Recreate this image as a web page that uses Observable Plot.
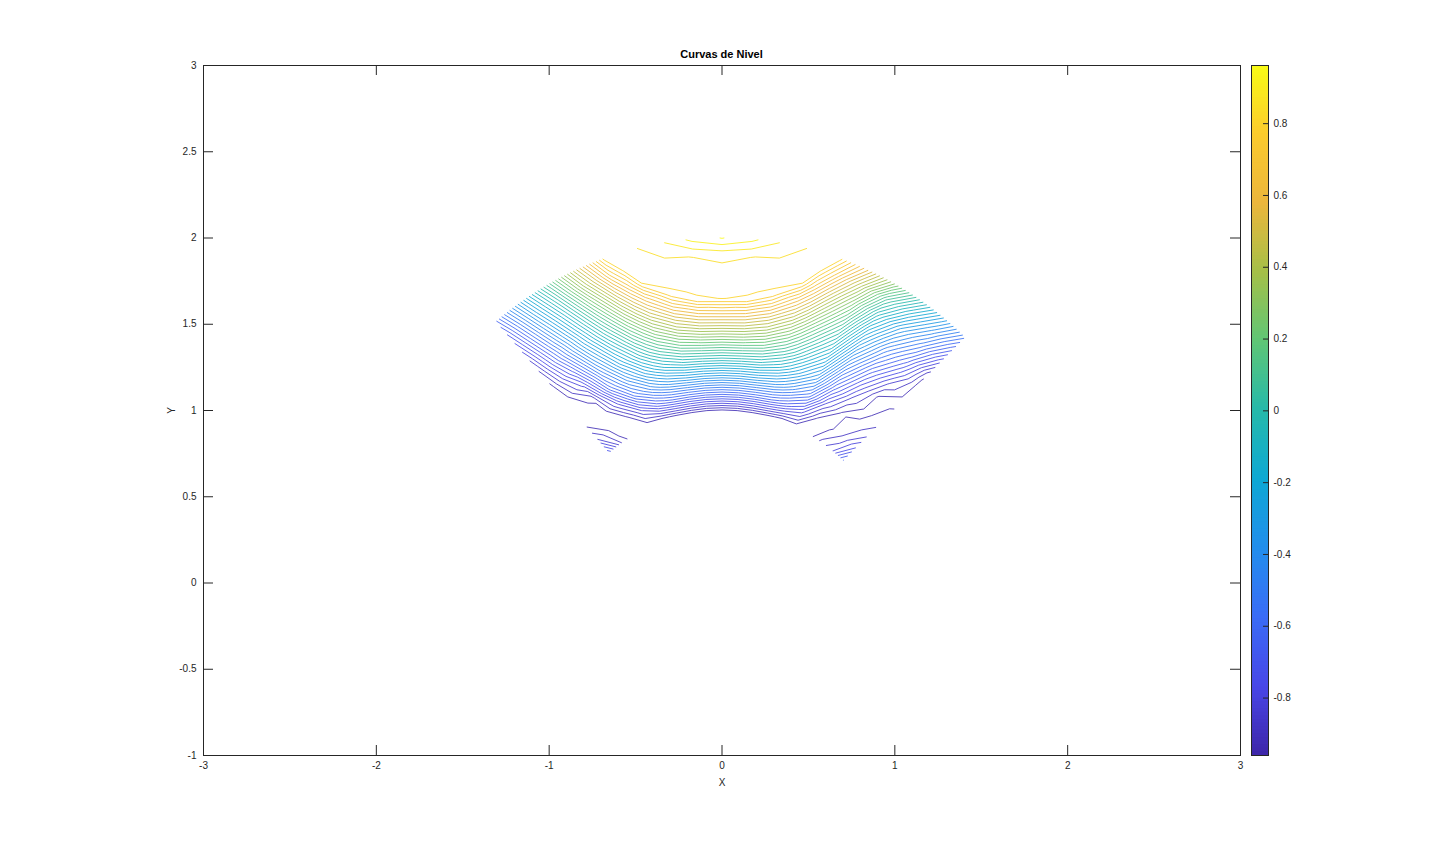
<!DOCTYPE html>
<html>
<head>
<meta charset="utf-8">
<script src="https://cdn.jsdelivr.net/npm/d3@7"></script>
<script src="https://cdn.jsdelivr.net/npm/@observablehq/plot@0.6"></script>
<style>
  html, body { margin: 0; padding: 0; background: #fff; }
  body { font-family: "Liberation Sans", Arial, Helvetica, sans-serif; }
  #wrap { position: relative; width: 1440px; height: 849px; overflow: hidden; }
  #title { position: absolute; left: 203px; width: 1037px; top: 48px; text-align: center;
           font-weight: bold; font-size: 11px; color: #000; }
  #main { position: absolute; left: 0; top: 0; }
  #cbar { position: absolute; left: 1240px; top: 0; }
</style>
</head>
<body>
<div id="wrap">
  <div id="title">Curvas de Nivel</div>
  <div id="main"></div>
  <div id="cbar"></div>
</div>
<script>
// ---- data ----
// grid angles (degrees) of the sampled sector, right edge to left edge
const thetaDeg = [45.4, 50, 55, 60, 65, 70, 72.5, 75, 80, 85, 90, 95, 100, 105, 107.5, 110, 115, 120, 125, 130.8];
// grid radii, inner arc to outer arc
const radius = [1.0, 1.1, 1.2, 1.3, 1.4, 1.5, 1.6, 1.65, 1.7, 1.8, 1.9, 2.0];
// estimated surface value for each radius (row) and angle (column)
const zRows = [
  [-0.64, -0.80, -0.87, -0.95, -0.95, -0.96, -0.95, -0.94, -0.93, -0.93, -0.93, -0.93, -0.93, -0.94, -0.95, -0.96, -0.96, -0.96, -0.90, -0.70],
  [-0.76, -0.87, -0.93, -0.925, -0.78, -0.693, -0.66, -0.638, -0.623, -0.62, -0.62, -0.62, -0.623, -0.638, -0.66, -0.693, -0.806, -0.94, -0.95, -0.84],
  [-0.85, -0.91, -0.925, -0.80, -0.58, -0.463, -0.414, -0.377, -0.339, -0.33, -0.33, -0.33, -0.339, -0.377, -0.414, -0.463, -0.591, -0.794, -0.955, -0.925],
  [-0.895, -0.935, -0.85, -0.67, -0.41, -0.263, -0.199, -0.145, -0.074, -0.053, -0.05, -0.053, -0.074, -0.145, -0.199, -0.263, -0.43, -0.625, -0.906, -0.955],
  [-0.918, -0.93, -0.76, -0.55, -0.26, -0.088, -0.005, 0.063, 0.163, 0.205, 0.21, 0.205, 0.163, 0.063, -0.005, -0.088, -0.281, -0.508, -0.786, -0.955],
  [-0.93, -0.85, -0.66, -0.43, -0.12, 0.072, 0.168, 0.257, 0.385, 0.45, 0.46, 0.45, 0.385, 0.257, 0.168, 0.072, -0.151, -0.392, -0.67, -0.93],
  [-0.93, -0.75, -0.55, -0.31, 0.01, 0.227, 0.34, 0.443, 0.59, 0.672, 0.69, 0.672, 0.59, 0.443, 0.34, 0.227, -0.022, -0.286, -0.569, -0.89],
  [-0.925, -0.70, -0.50, -0.25, 0.075, 0.305, 0.426, 0.53, 0.69, 0.79, 0.802, 0.79, 0.69, 0.53, 0.426, 0.305, 0.04, -0.24, -0.53, -0.865],
  [-0.90, -0.65, -0.44, -0.19, 0.14, 0.382, 0.508, 0.615, 0.785, 0.81, 0.806, 0.81, 0.785, 0.615, 0.508, 0.382, 0.102, -0.19, -0.486, -0.84],
  [-0.79, -0.54, -0.32, -0.06, 0.27, 0.534, 0.666, 0.801, 0.83, 0.823, 0.825, 0.823, 0.83, 0.801, 0.666, 0.534, 0.228, -0.093, -0.403, -0.78],
  [-0.67, -0.42, -0.17, 0.09, 0.41, 0.683, 0.805, 0.815, 0.835, 0.841, 0.852, 0.841, 0.835, 0.815, 0.805, 0.683, 0.359, 0.007, -0.32, -0.72],
  [-0.55, -0.29, -0.01, 0.275, 0.56, 0.815, 0.815, 0.833, 0.875, 0.931, 0.962, 0.931, 0.875, 0.833, 0.815, 0.81, 0.47, 0.11, -0.24, -0.65]
];
// contour levels
const levels = [-0.92, -0.88, -0.84, -0.80, -0.76, -0.72, -0.68, -0.64, -0.60, -0.56, -0.52, -0.48,
  -0.44, -0.40, -0.36, -0.32, -0.28, -0.24, -0.20, -0.16, -0.12, -0.08, -0.04, 0,
  0.04, 0.08, 0.12, 0.16, 0.20, 0.24, 0.28, 0.32, 0.36, 0.40, 0.44, 0.48,
  0.52, 0.56, 0.60, 0.64, 0.68, 0.72, 0.76, 0.80, 0.84, 0.88, 0.92, 0.96];
// axis ticks
const xTicks = [-3, -2, -1, 0, 1, 2, 3];
const yTicks = [-1, -0.5, 0, 0.5, 1, 1.5, 2, 2.5, 3];
const cbTicks = [-0.8, -0.6, -0.4, -0.2, 0, 0.2, 0.4, 0.6, 0.8];
// colormap (parula-like) anchor colours
const parulaStops = ["#3e26a8", "#4846e8", "#3a6cf6", "#228eec", "#0ea8d4", "#26b9aa",
  "#5fc676", "#a5c048", "#ecb63c", "#fbcb2d", "#f9fb15"];

// ---- contour lines from the grid ----
const nx = thetaDeg.length, ny = radius.length;
const values = zRows.flat();
const [zMin, zMax] = d3.extent(values);
const parula = d3.piecewise(d3.interpolateRgb, parulaStops);

function lerpArr(arr, u) {
  const i = Math.max(0, Math.min(arr.length - 2, Math.floor(u)));
  const f = Math.max(0, Math.min(1, u - i));
  return arr[i] + (arr[i + 1] - arr[i]) * f;
}
const isBorder = p => p[0] <= 0 || p[0] >= nx || p[1] <= 0 || p[1] >= ny;

const gen = d3.contours().size([nx, ny]).thresholds(levels);
const lineData = [];
let id = 0;
for (const level of levels) {
  const geo = gen.contour(values, level);
  for (const poly of geo.coordinates) {
    for (const ring of poly) {
      let pts = ring;
      const a = ring[0], b = ring[ring.length - 1];
      if (ring.length > 1 && a[0] === b[0] && a[1] === b[1]) pts = ring.slice(0, -1);
      const n = pts.length;
      const start = pts.findIndex(isBorder);
      const runs = [];
      if (start < 0) {
        runs.push([...pts, pts[0]]);
      } else {
        let cur = [];
        for (let k = 1; k <= n; k++) {
          const p = pts[(start + k) % n];
          if (isBorder(p)) { if (cur.length > 1) runs.push(cur); cur = []; }
          else cur.push(p);
        }
        if (cur.length > 1) runs.push(cur);
      }
      for (const run of runs) {
        id++;
        for (const [gx, gy] of run) {
          const th = lerpArr(thetaDeg, gx - 0.5) * Math.PI / 180;
          const r = lerpArr(radius, gy - 0.5);
          lineData.push({id, level, x: r * Math.cos(th), y: r * Math.sin(th)});
        }
      }
    }
  }
}

const axisColor = "#262626";
const fmt = d => String(d);
const fontStyle = {fontFamily: '"Liberation Sans", Arial, Helvetica, sans-serif', fontSize: "10px", color: axisColor, background: "transparent", overflow: "visible"};

// ---- main axes ----
const W = 1245, H = 800, ML = 203, MR = 5, MT = 65, MB = 45;
const frameW = W - ML - MR, frameH = H - MT - MB;
const colorOpts = {type: "linear", domain: [zMin, zMax], interpolate: parula};

const main = Plot.plot({
  width: W, height: H,
  marginLeft: ML, marginRight: MR, marginTop: MT, marginBottom: MB,
  style: fontStyle,
  x: {domain: [-3, 3]},
  y: {domain: [-1, 3]},
  color: colorOpts,
  marks: [
    Plot.line(lineData, {x: "x", y: "y", z: "id", stroke: "level", strokeWidth: 0.85}),
    Plot.frame({stroke: axisColor, strokeWidth: 1}),
    Plot.tickX(xTicks, {x: d => d, insetTop: frameH - 10, stroke: axisColor}),
    Plot.tickX(xTicks, {x: d => d, insetBottom: frameH - 10, stroke: axisColor}),
    Plot.tickY(yTicks, {y: d => d, insetRight: frameW - 10, stroke: axisColor}),
    Plot.tickY(yTicks, {y: d => d, insetLeft: frameW - 10, stroke: axisColor}),
    Plot.axisX(xTicks, {anchor: "bottom", tickSize: 0, tickPadding: 6, tickFormat: fmt,
      label: "X", labelAnchor: "center", labelArrow: "none", labelOffset: 30, fontSize: 10}),
    Plot.axisY(yTicks, {anchor: "left", tickSize: 0, tickPadding: 7, tickFormat: fmt,
      label: "Y", labelAnchor: "center", labelArrow: "none", labelOffset: 36, fontSize: 10})
  ]
});
document.getElementById("main").append(main);

// ---- colorbar ----
const N = 192;
const step = (zMax - zMin) / N;
const bands = d3.range(N).map(i => ({y1: zMin + i * step, y2: Math.min(zMax, zMin + (i + 1.3) * step), mid: zMin + (i + 0.5) * step}));
const cb = Plot.plot({
  width: 60, height: H,
  marginLeft: 11, marginRight: 32, marginTop: MT, marginBottom: MB,
  style: fontStyle,
  y: {domain: [zMin, zMax]},
  color: colorOpts,
  marks: [
    Plot.rect(bands, {y1: "y1", y2: "y2", fill: "mid"}),
    Plot.frame({stroke: axisColor, strokeWidth: 1}),
    Plot.tickY(cbTicks, {y: d => d, insetLeft: 12, stroke: axisColor}),
    Plot.axisY(cbTicks, {anchor: "right", tickSize: 0, tickPadding: 5, tickFormat: fmt, label: null, fontSize: 10})
  ]
});
document.getElementById("cbar").append(cb);
</script>
</body>
</html>
